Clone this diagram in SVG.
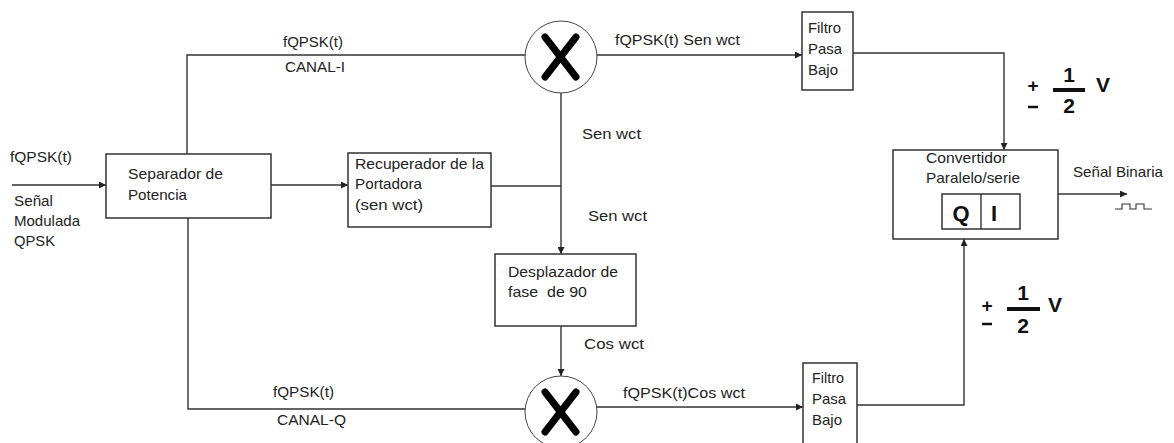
<svg xmlns="http://www.w3.org/2000/svg" width="1174" height="443" viewBox="0 0 1174 443">
<defs>
<marker id="arr" viewBox="0 0 10 10" refX="10" refY="5" markerWidth="7" markerHeight="7" markerUnits="userSpaceOnUse" orient="auto"><path d="M0,0 L10,5 L0,10 z" fill="#222"/></marker>
<style>
.t{font-family:"Liberation Sans",Arial,sans-serif;font-size:15px;fill:#222}
.b{font-family:"Liberation Sans",Arial,sans-serif;font-weight:bold;fill:#111}
.box{fill:#fff;stroke:#333;stroke-width:1.5}
.ln{fill:none;stroke:#333;stroke-width:1.4}
.circ{fill:#fff;stroke:#444;stroke-width:1}
.x{stroke:#000;stroke-width:7;stroke-linecap:round}
</style>
</defs>
<rect width="1174" height="443" fill="#fff"/>
<g id="connectors">
<line class="ln" x1="12" y1="185" x2="106" y2="185" marker-end="url(#arr)"/>
<polyline class="ln" points="187,154 187,55 525,55"/>
<polyline class="ln" points="188,218 188,409 525,409"/>
<line class="ln" x1="271" y1="185" x2="348" y2="185" marker-end="url(#arr)"/>
<line class="ln" x1="491" y1="186" x2="561" y2="186"/>
<line class="ln" x1="561" y1="93" x2="561" y2="254" marker-end="url(#arr)"/>
<line class="ln" x1="561" y1="326" x2="561" y2="376" marker-end="url(#arr)"/>
<line class="ln" x1="597" y1="55" x2="802" y2="55" marker-end="url(#arr)"/>
<line class="ln" x1="597" y1="407" x2="803" y2="407" marker-end="url(#arr)"/>
<polyline class="ln" points="853,53 1004,53 1004,150" marker-end="url(#arr)"/>
<polyline class="ln" points="857,405 964,405 964,239" marker-end="url(#arr)"/>
<line class="ln" x1="1058" y1="194" x2="1127" y2="194" marker-end="url(#arr)"/>
<polyline class="ln" points="1115,209 1122,209 1122,204 1130,204 1130,209 1136,209 1136,204 1144,204 1144,209 1152,209" style="stroke-width:1.1"/>
</g>
<g id="input-labels">
<text class="t" x="10" y="162" textLength="62" lengthAdjust="spacingAndGlyphs">fQPSK(t)</text>
<text class="t" x="14" y="206" textLength="39" lengthAdjust="spacingAndGlyphs">Señal</text>
<text class="t" x="14" y="226" textLength="66" lengthAdjust="spacingAndGlyphs">Modulada</text>
<text class="t" x="14" y="246" textLength="41" lengthAdjust="spacingAndGlyphs">QPSK</text>
</g>
<g id="separador">
<rect class="box" x="106" y="154" width="165" height="64"/>
<text class="t" x="128" y="179" textLength="95" lengthAdjust="spacingAndGlyphs">Separador de</text>
<text class="t" x="128" y="200" textLength="59" lengthAdjust="spacingAndGlyphs">Potencia</text>
</g>
<g id="recuperador">
<rect class="box" x="348" y="153" width="143" height="74"/>
<text class="t" x="355" y="169" textLength="129" lengthAdjust="spacingAndGlyphs">Recuperador de la</text>
<text class="t" x="355" y="189" textLength="67" lengthAdjust="spacingAndGlyphs">Portadora</text>
<text class="t" x="355" y="210" textLength="68" lengthAdjust="spacingAndGlyphs">(sen wct)</text>
</g>
<g id="mult-top">
<circle class="circ" cx="561" cy="57" r="36"/>
<line class="x" x1="545" y1="37" x2="576" y2="77"/>
<line class="x" x1="576" y1="37" x2="545" y2="77"/>
</g>
<g id="mult-bottom">
<circle class="circ" cx="561" cy="412" r="36"/>
<line class="x" x1="545" y1="392" x2="576" y2="432"/>
<line class="x" x1="576" y1="392" x2="545" y2="432"/>
</g>
<g id="desplazador">
<rect class="box" x="495" y="254" width="141" height="72"/>
<text class="t" x="508" y="277" textLength="110" lengthAdjust="spacingAndGlyphs">Desplazador de</text>
<text class="t" x="508" y="297" textLength="79" lengthAdjust="spacingAndGlyphs" xml:space="preserve">fase  de 90</text>
</g>
<g id="filtro-top">
<rect class="box" x="802" y="12" width="51" height="78"/>
<text class="t" x="808" y="33" textLength="33" lengthAdjust="spacingAndGlyphs">Filtro</text>
<text class="t" x="808" y="54" textLength="34" lengthAdjust="spacingAndGlyphs">Pasa</text>
<text class="t" x="808" y="75" textLength="30" lengthAdjust="spacingAndGlyphs">Bajo</text>
</g>
<g id="filtro-bottom">
<rect class="box" x="803" y="363" width="54" height="90"/>
<text class="t" x="812" y="383" textLength="32" lengthAdjust="spacingAndGlyphs">Filtro</text>
<text class="t" x="812" y="404" textLength="34" lengthAdjust="spacingAndGlyphs">Pasa</text>
<text class="t" x="812" y="425" textLength="30" lengthAdjust="spacingAndGlyphs">Bajo</text>
</g>
<g id="convertidor">
<rect class="box" x="893" y="150" width="165" height="89"/>
<text class="t" x="926" y="163" textLength="81" lengthAdjust="spacingAndGlyphs">Convertidor</text>
<text class="t" x="926" y="183" textLength="94" lengthAdjust="spacingAndGlyphs">Paralelo/serie</text>
<rect class="box" x="942" y="194" width="78" height="35"/>
<line class="ln" x1="981" y1="194" x2="981" y2="229"/>
<text class="b" x="961" y="221" text-anchor="middle" style="font-size:22px">Q</text>
<text class="b" x="994" y="221" text-anchor="middle" style="font-size:22px">I</text>
</g>
<g id="labels">
<text class="t" x="283" y="47" textLength="60" lengthAdjust="spacingAndGlyphs">fQPSK(t)</text>
<text class="t" x="285" y="72" textLength="60" lengthAdjust="spacingAndGlyphs">CANAL-I</text>
<text class="t" x="615" y="45" textLength="125" lengthAdjust="spacingAndGlyphs">fQPSK(t) Sen wct</text>
<text class="t" x="582" y="139" textLength="59" lengthAdjust="spacingAndGlyphs">Sen wct</text>
<text class="t" x="588" y="221" textLength="59" lengthAdjust="spacingAndGlyphs">Sen wct</text>
<text class="t" x="584" y="349" textLength="60" lengthAdjust="spacingAndGlyphs">Cos wct</text>
<text class="t" x="273" y="397" textLength="61" lengthAdjust="spacingAndGlyphs">fQPSK(t)</text>
<text class="t" x="277" y="425" textLength="69" lengthAdjust="spacingAndGlyphs">CANAL-Q</text>
<text class="t" x="623" y="398" textLength="122" lengthAdjust="spacingAndGlyphs">fQPSK(t)Cos wct</text>
<text class="t" x="1073" y="177" textLength="90" lengthAdjust="spacingAndGlyphs">Señal Binaria</text>
</g>
<g id="volt-top">
<text class="b" x="1033" y="92" text-anchor="middle" style="font-size:19px">+</text>
<line x1="1028" y1="107" x2="1038" y2="107" stroke="#111" stroke-width="2.5"/>
<text class="b" x="1069" y="82" text-anchor="middle" style="font-size:21px">1</text>
<line x1="1053" y1="90" x2="1085" y2="90" stroke="#111" stroke-width="4"/>
<text class="b" x="1069" y="113" text-anchor="middle" style="font-size:21px">2</text>
<text class="b" x="1096" y="92" style="font-size:21px">V</text>
</g>
<g id="volt-bottom">
<text class="b" x="987" y="312" text-anchor="middle" style="font-size:19px">+</text>
<line x1="982" y1="324" x2="992" y2="324" stroke="#111" stroke-width="2.5"/>
<text class="b" x="1023" y="300" text-anchor="middle" style="font-size:21px">1</text>
<line x1="1007" y1="309" x2="1040" y2="309" stroke="#111" stroke-width="4"/>
<text class="b" x="1023" y="333" text-anchor="middle" style="font-size:21px">2</text>
<text class="b" x="1048" y="312" style="font-size:21px">V</text>
</g>
</svg>
